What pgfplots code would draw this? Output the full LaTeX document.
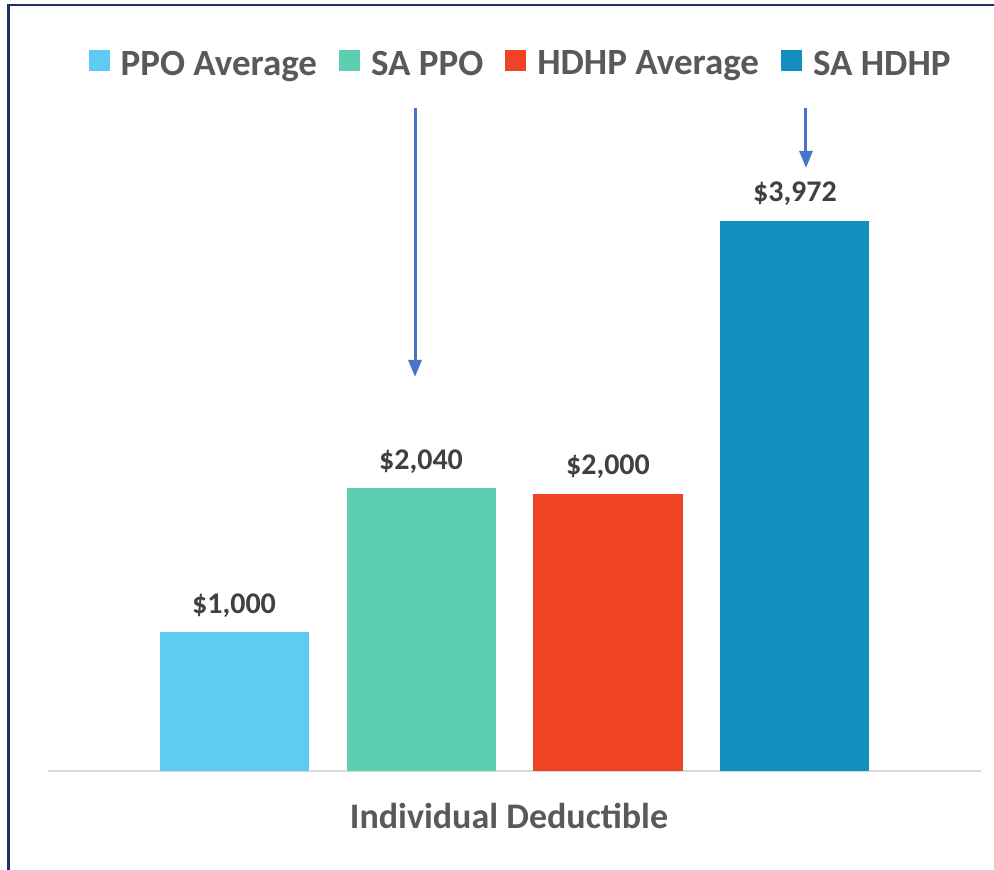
\documentclass[border=0pt]{standalone}
\usepackage{pgfplots}
\pgfplotsset{compat=1.18}
\usepackage{fontspec}
\setmainfont{Carlito}
\usetikzlibrary{arrows.meta}
\definecolor{cPPO}{HTML}{5ECBF3}
\definecolor{cSAPPO}{HTML}{5DCFB0}
\definecolor{cHDHP}{HTML}{F04325}
\definecolor{cSAHDHP}{HTML}{128FBE}
\definecolor{txt}{HTML}{595959}
\definecolor{lbl}{HTML}{404040}
\definecolor{arr}{HTML}{4475C8}
\definecolor{frm}{HTML}{1F3064}
\definecolor{axl}{HTML}{D9D9D9}
\begin{document}
\begin{tikzpicture}[x=1pt,y=1pt]
\useasboundingbox (0,0) rectangle (994,870);
\fill[white] (0,0) rectangle (994,870);
\draw[frm, line width=2.5pt] (8.5,0) -- (8.5,865) -- (995,865);
\begin{axis}[
  at={(48pt,99pt)}, anchor=south west,
  scale only axis, width=933pt, height=700pt,
  xmin=-0.995, xmax=3.995, ymin=0, ymax=5054,
  hide y axis,
  axis x line=bottom,
  x axis line style={draw=axl, line width=2pt, -},
  xtick=\empty, ytick=\empty,
  clip=false,
  ybar, bar width=0.797, bar shift=0pt,
  nodes near coords={\$\pgfmathprintnumber{\pgfplotspointmeta}},
  /pgf/number format/.cd, fixed, precision=0, 1000 sep={,}, assume math mode=true,
  /pgfplots/.cd,
  every node near coord/.append style={anchor=base, yshift=19pt, inner sep=0pt,
    font=\fontsize{30}{34}\selectfont\bfseries, text=lbl},
  legend columns=4,
  legend style={at={(0.5055,1.0113)}, anchor=center, draw=none, fill=none,
    font=\fontsize{37}{42}\selectfont\bfseries, text=txt,
    nodes={inner sep=0pt},
    /tikz/every odd column/.append style={column sep=11pt},
    /tikz/every even column/.append style={column sep=22pt}},
  legend image code/.code={\draw[#1,draw=none] (0pt,-7pt) rectangle (21pt,14pt);},
]
\addplot[fill=cPPO, draw=none] coordinates {(0,1000)};
\addplot[fill=cSAPPO, draw=none] coordinates {(1,2040)};
\addplot[fill=cHDHP, draw=none] coordinates {(2,2000)};
\addplot[fill=cSAHDHP, draw=none] coordinates {(3,3972)};
\legend{PPO Average, SA PPO, HDHP Average, SA HDHP}
\draw[arr, line width=3pt, -{Triangle[width=13pt,length=17pt]}] (axis cs:0.968,4787) -- (axis cs:0.968,2845);
\draw[arr, line width=3pt, -{Triangle[width=13pt,length=17pt]}] (axis cs:3.059,4787) -- (axis cs:3.059,4354);
\end{axis}
\node[anchor=base, font=\fontsize{36}{40}\selectfont\bfseries, text=txt] at (509,41) {Individual Deductible};
\end{tikzpicture}
\end{document}
